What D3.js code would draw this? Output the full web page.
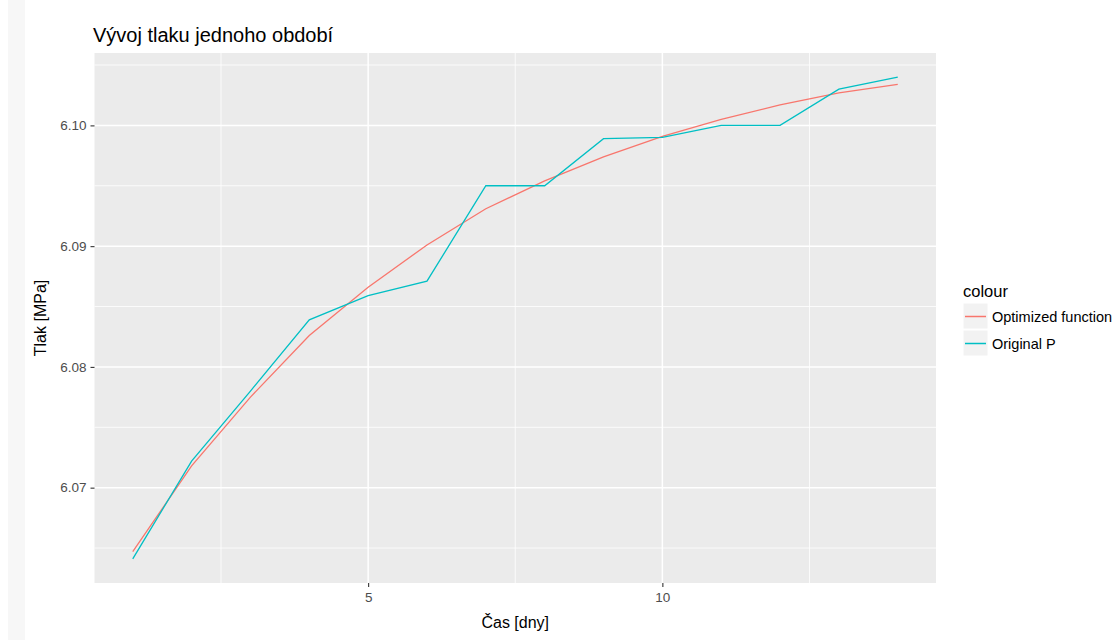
<!DOCTYPE html>
<html>
<head>
<meta charset="utf-8">
<script src="https://cdn.jsdelivr.net/npm/d3@7"></script>
<style>
  body { margin: 0; background: #fff; }
  svg { display: block; font-family: "Liberation Sans", Arial, sans-serif; }
</style>
</head>
<body>
<div class="box"></div>
<script>
// days
var days = [1, 2, 3, 4, 5, 6, 7, 8, 9, 10, 11, 12, 13, 14];
// measured pressure
var originalP = [6.0641, 6.0722, 6.0780, 6.0839, 6.0859, 6.0871, 6.0950, 6.0950, 6.0989, 6.0990, 6.1000, 6.1000, 6.1030, 6.1040];
// fitted curve
var optimized = [6.0647, 6.0718, 6.0775, 6.0826, 6.0866, 6.0901, 6.0931, 6.0954, 6.0974, 6.0991, 6.1005, 6.1017, 6.1027, 6.1034];

var seriesNames = ["Optimized function", "Original P"];
var seriesColors = ["#F8766D", "#00BFC4"];
var xTicks = [5, 10];
var xMinor = [2.5, 7.5, 12.5];
var yTicks = [6.07, 6.08, 6.09, 6.10];
var yMinor = [6.065, 6.075, 6.085, 6.095, 6.105];

var width = 1120, height = 640;
var margin = { top: 53, right: 184, bottom: 57, left: 94.5 };

var series = [optimized, originalP];
var allVals = optimized.concat(originalP);

var xExt = d3.extent(days), yExt = d3.extent(allVals);
var xPad = (xExt[1] - xExt[0]) * 0.05, yPad = (yExt[1] - yExt[0]) * 0.05;

var x = d3.scaleLinear()
    .domain([xExt[0] - xPad, xExt[1] + xPad])
    .range([margin.left, width - margin.right]);
var y = d3.scaleLinear()
    .domain([yExt[0] - yPad, yExt[1] + yPad])
    .range([height - margin.bottom, margin.top]);

var svg = d3.create("svg")
    .attr("width", width)
    .attr("height", height);

// faint strip at the left edge
svg.append("rect").attr("x", 8).attr("y", 0).attr("width", 17).attr("height", height).attr("fill", "#f7f7f7");

// panel
svg.append("rect")
    .attr("x", x.range()[0]).attr("y", y.range()[1])
    .attr("width", x.range()[1] - x.range()[0])
    .attr("height", y.range()[0] - y.range()[1])
    .attr("fill", "#EBEBEB");

var grid = svg.append("g").attr("stroke", "#fff");
grid.selectAll(".xminor").data(xMinor).join("line")
    .attr("x1", d => x(d)).attr("x2", d => x(d))
    .attr("y1", y.range()[1]).attr("y2", y.range()[0])
    .attr("stroke-width", 0.8);
grid.selectAll(".yminor").data(yMinor).join("line")
    .attr("y1", d => y(d)).attr("y2", d => y(d))
    .attr("x1", x.range()[0]).attr("x2", x.range()[1])
    .attr("stroke-width", 0.8);
grid.selectAll(".xmajor").data(xTicks).join("line")
    .attr("x1", d => x(d)).attr("x2", d => x(d))
    .attr("y1", y.range()[1]).attr("y2", y.range()[0])
    .attr("stroke-width", 1.5);
grid.selectAll(".ymajor").data(yTicks).join("line")
    .attr("y1", d => y(d)).attr("y2", d => y(d))
    .attr("x1", x.range()[0]).attr("x2", x.range()[1])
    .attr("stroke-width", 1.5);

// lines
var line = d3.line()
    .x((d, i) => x(days[i]))
    .y(d => y(d));

svg.append("g")
    .attr("fill", "none")
    .attr("stroke-width", 1.3)
    .selectAll("path")
    .data(series)
    .join("path")
    .attr("stroke", (d, i) => seriesColors[i])
    .attr("d", line);

// axes
var xAxis = svg.append("g")
    .attr("transform", `translate(0,${y.range()[0]})`)
    .call(d3.axisBottom(x).tickValues(xTicks).tickFormat(d3.format("d")).tickSize(4).tickPadding(5));
var yAxis = svg.append("g")
    .attr("transform", `translate(${x.range()[0]},0)`)
    .call(d3.axisLeft(y).tickValues(yTicks).tickFormat(d3.format(".2f")).tickSize(4).tickPadding(4));

[xAxis, yAxis].forEach(function (a) {
    a.select(".domain").remove();
    a.selectAll(".tick line").attr("stroke", "#333").attr("stroke-width", 1.1);
    a.selectAll(".tick text")
        .attr("fill", "#4D4D4D")
        .style("font-size", "13.5px")
        .style("font-family", "Liberation Sans, Arial, sans-serif");
});

// titles
svg.append("text")
    .attr("x", 93).attr("y", 42)
    .attr("font-size", 20)
    .attr("fill", "#000")
    .text("Vývoj tlaku jednoho období");

svg.append("text")
    .attr("x", (x.range()[0] + x.range()[1]) / 2).attr("y", 628)
    .attr("text-anchor", "middle")
    .attr("font-size", 16)
    .text("Čas [dny]");

svg.append("text")
    .attr("transform", `translate(46,${(y.range()[0] + y.range()[1]) / 2}) rotate(-90)`)
    .attr("text-anchor", "middle")
    .attr("font-size", 16)
    .text("Tlak [MPa]");

// legend
var legend = svg.append("g").attr("transform", "translate(963,0)");
legend.append("text")
    .attr("x", 0).attr("y", 297)
    .attr("font-size", 16.5)
    .text("colour");

var items = legend.selectAll(".item")
    .data(seriesNames)
    .join("g")
    .attr("transform", (d, i) => `translate(0,${303 + i * 27})`);
items.append("rect")
    .attr("width", 25).attr("height", 26)
    .attr("fill", "#F2F2F2")
    .attr("stroke", "#fff");
items.append("line")
    .attr("x1", 2).attr("x2", 23)
    .attr("y1", 13.5).attr("y2", 13.5)
    .attr("stroke", (d, i) => seriesColors[i])
    .attr("stroke-width", 1.5);
items.append("text")
    .attr("x", 29).attr("y", 18.5)
    .attr("font-size", 14.5)
    .text(d => d);

document.querySelector(".box").appendChild(svg.node());
</script>
</body>
</html>
